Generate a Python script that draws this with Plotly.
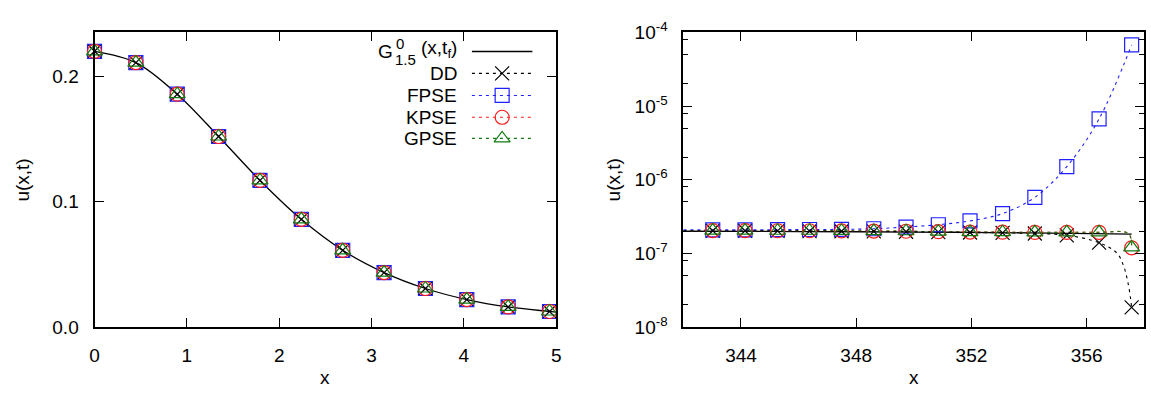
import plotly.graph_objects as go

# ---------------- data ----------------
# left panel
left_x = [0.0, 0.448, 0.896, 1.344, 1.792, 2.240, 2.688, 3.136, 3.584, 4.032, 4.480, 4.928]
g_left_x = [0.0, 0.448, 0.896, 1.344, 1.792, 2.240, 2.688, 3.136, 3.584, 4.032, 4.480, 4.928, 5.0]
g_left = [0.2197, 0.2107, 0.1855, 0.1518, 0.1168, 0.0858, 0.0611, 0.0434, 0.0307, 0.0219, 0.0160, 0.0124, 0.0118]
dd_left = [0.2197, 0.2107, 0.1855, 0.1518, 0.1168, 0.0858, 0.0611, 0.0434, 0.0307, 0.0219, 0.0160, 0.0124]
fpse_left = [0.2197, 0.2107, 0.1855, 0.1518, 0.1168, 0.0858, 0.0611, 0.0434, 0.0307, 0.0219, 0.0160, 0.0124]
kpse_left = [0.2197, 0.2107, 0.1855, 0.1518, 0.1168, 0.0858, 0.0611, 0.0434, 0.0307, 0.0219, 0.0160, 0.0124]
gpse_left = [0.2197, 0.2107, 0.1855, 0.1518, 0.1168, 0.0858, 0.0611, 0.0434, 0.0307, 0.0219, 0.0160, 0.0124]

# right panel (markers)
right_x = [343.02, 344.14, 345.27, 346.38, 347.49, 348.61, 349.73, 350.85, 351.95, 353.08, 354.20, 355.31, 356.43, 357.56]
dd_right = [2.03e-7, 2.03e-7, 2.02e-7, 2.01e-7, 2.00e-7, 1.99e-7, 1.97e-7, 1.94e-7, 1.92e-7, 1.90e-7, 1.86e-7, 1.76e-7, 1.40e-7, 1.85e-8]
fpse_right = [2.09e-7, 2.09e-7, 2.10e-7, 2.11e-7, 2.12e-7, 2.16e-7, 2.28e-7, 2.45e-7, 2.76e-7, 3.47e-7, 5.77e-7, 1.51e-6, 6.70e-6, 6.76e-5]
kpse_right = [2.04e-7, 2.04e-7, 2.03e-7, 2.03e-7, 2.02e-7, 2.01e-7, 2.00e-7, 1.97e-7, 1.95e-7, 1.94e-7, 1.93e-7, 1.93e-7, 1.93e-7, 1.19e-7]
gpse_right = [2.04e-7, 2.04e-7, 2.03e-7, 2.03e-7, 2.02e-7, 2.01e-7, 2.00e-7, 1.97e-7, 1.95e-7, 1.94e-7, 1.93e-7, 1.93e-7, 1.93e-7, 1.21e-7]

# right panel (curves: extra points)
g_right_x = [342.0, 346.0, 350.0, 354.0, 357.56]
g_right = [2.00e-7, 1.98e-7, 1.95e-7, 1.90e-7, 1.83e-7]
curve_start_x = 342.0
dd_start, fpse_start, kpse_start, gpse_start = 2.03e-7, 2.09e-7, 2.04e-7, 2.04e-7
dd_tail_x = [357.06, 357.29, 357.43, 357.52]
dd_tail = [1.00e-7, 6.6e-8, 4.05e-8, 2.48e-8]
pse_tail_x = [357.45]
kpse_tail = [1.86e-7]
gpse_tail = [1.86e-7]

# ticks
left_xticks = [0, 1, 2, 3, 4, 5]
left_yticks = [0.0, 0.1, 0.2]
left_yticktext = ["0.0", "0.1", "0.2"]
right_xticks = [344, 348, 352, 356]
right_yticks = [1e-8, 1e-7, 1e-6, 1e-5, 1e-4]
right_yticktext = ["10<sup>-8</sup>", "10<sup>-7</sup>", "10<sup>-6</sup>", "10<sup>-5</sup>", "10<sup>-4</sup>"]
right_yminor = [m * 10.0 ** e for e in (-8, -7, -6, -5) for m in (2, 5, 8)]

labels = ["DD", "FPSE", "KPSE", "GPSE"]

# ---------------- styling ----------------
W, H = 1151, 396
FONT = "Liberation Sans, Arial, sans-serif"
FS = 19
FS_SMALL = 15
C_DD, C_FP, C_KP, C_GP = "#000000", "#1f1fff", "#ff1a1a", "#127a12"
DASH = "3px,4px"
MS = 14

def px_x(p):
    return p / W

def px_y(p):
    return 1 - p / H

L_dom = [px_x(90.3), px_x(556.0)]
R_dom = [px_x(684.3), px_x(1149.3)]
Y_dom = [px_y(334.3), px_y(20.7)]

fig = go.Figure()

# ---------- left panel ----------
fig.add_trace(go.Scatter(x=g_left_x, y=g_left, mode="lines", line=dict(color="black", width=1.3, shape="spline"),
                         xaxis="x", yaxis="y", showlegend=False))
sets_left = [
    (dd_left, C_DD, "x-thin-open"),
    (fpse_left, C_FP, "square-open"),
    (kpse_left, C_KP, "circle-open"),
    (gpse_left, C_GP, "triangle-up-open"),
]
for ys, c, sym in sets_left:
    fig.add_trace(go.Scatter(x=left_x, y=ys, mode="markers", cliponaxis=False,
                             marker=dict(symbol=sym, size=MS, color=c, line=dict(color=c, width=1.2)),
                             xaxis="x", yaxis="y", showlegend=False))

# ---------- right panel ----------
def merge(x0, y0, xs, ys, tx=(), ty=()):
    pts = [(x0, y0)] + list(zip(xs, ys)) + list(zip(tx, ty))
    pts.sort()
    return [p[0] for p in pts], [p[1] for p in pts]

curves = [
    (merge(curve_start_x, kpse_start, right_x, kpse_right, pse_tail_x, kpse_tail), C_KP),
    (merge(curve_start_x, gpse_start, right_x, gpse_right, pse_tail_x, gpse_tail), C_GP),
    (merge(curve_start_x, dd_start, right_x, dd_right, dd_tail_x, dd_tail), C_DD),
    (merge(curve_start_x, fpse_start, right_x, fpse_right), C_FP),
]
fig.add_trace(go.Scatter(x=g_right_x, y=g_right, mode="lines", line=dict(color="black", width=1.3, shape="spline"),
                         xaxis="x2", yaxis="y2", showlegend=False))
for (cx, cy), c in curves:
    fig.add_trace(go.Scatter(x=cx, y=cy, mode="lines", line=dict(color=c, width=1.1, dash=DASH, shape="spline"),
                             xaxis="x2", yaxis="y2", showlegend=False))
sets_right = [
    (dd_right, C_DD, "x-thin-open"),
    (fpse_right, C_FP, "square-open"),
    (kpse_right, C_KP, "circle-open"),
    (gpse_right, C_GP, "triangle-up-open"),
]
for ys, c, sym in sets_right:
    fig.add_trace(go.Scatter(x=right_x, y=ys, mode="markers", cliponaxis=False,
                             marker=dict(symbol=sym, size=MS, color=c, line=dict(color=c, width=1.2)),
                             xaxis="x2", yaxis="y2", showlegend=False))

# ---------- custom legend (gnuplot style: text left, sample right) ----------
leg_rows = [41.0, 64.3, 87.8, 111.0, 133.5]
leg_line = [471.0, 532.0]
leg_mark = [501.5]
fig.add_trace(go.Scatter(x=leg_line, y=[leg_rows[0]] * 2, mode="lines", line=dict(color="black", width=1.3),
                         xaxis="x3", yaxis="y3", showlegend=False))
for row, (ys, c, sym) in zip(leg_rows[1:], sets_right):
    fig.add_trace(go.Scatter(x=leg_line, y=[row] * 2, mode="lines", line=dict(color=c, width=1.1, dash=DASH),
                             xaxis="x3", yaxis="y3", showlegend=False))
    fig.add_trace(go.Scatter(x=leg_mark, y=[row], mode="markers",
                             marker=dict(symbol=sym, size=MS, color=c, line=dict(color=c, width=1.2)),
                             xaxis="x3", yaxis="y3", showlegend=False))

annotations = []
text_right = 458.0
for row, lab in zip(leg_rows[1:], labels):
    annotations.append(dict(x=px_x(text_right), y=px_y(row), xref="paper", yref="paper", text=lab,
                            xanchor="right", yanchor="middle", showarrow=False, font=dict(size=FS)))
# G^0_{1.5}(x,t_f) with stacked super/subscript
r0 = leg_rows[0]
annotations += [
    dict(x=px_x(text_right), y=px_y(r0), xref="paper", yref="paper", text="(x,t<sub>f</sub>)",
         xanchor="right", yanchor="middle", showarrow=False, font=dict(size=FS), yshift=3),
    dict(x=px_x(417), y=px_y(r0 + 8), xref="paper", yref="paper", text="1.5",
         xanchor="right", yanchor="middle", showarrow=False, font=dict(size=FS_SMALL)),
    dict(x=px_x(393), y=px_y(r0), xref="paper", yref="paper", text="G",
         xanchor="right", yanchor="middle", showarrow=False, font=dict(size=FS)),
    dict(x=px_x(392), y=px_y(r0 - 9), xref="paper", yref="paper", text="0",
         xanchor="left", yanchor="middle", showarrow=False, font=dict(size=FS_SMALL)),
]
# axis titles
for xc in (18.0, 614.0):
    annotations.append(dict(x=px_x(xc), y=px_y(177.5), xref="paper", yref="paper", text="u(x,t)", textangle=-90,
                            xanchor="center", yanchor="middle", showarrow=False, font=dict(size=FS)))
for xc in (323.0, 917.0):
    annotations.append(dict(x=px_x(xc), y=px_y(388.0), xref="paper", yref="paper", text="x",
                            xanchor="center", yanchor="middle", showarrow=False, font=dict(size=FS)))

axis_common = dict(showline=True, linecolor="black", linewidth=2, mirror="ticks", ticks="inside",
                   ticklen=9, tickwidth=1.2, tickcolor="black", showgrid=False, zeroline=False,
                   tickfont=dict(size=FS, color="black"))

fig.update_layout(
    width=W, height=H, margin=dict(l=0, r=0, t=0, b=0),
    paper_bgcolor="white", plot_bgcolor="white",
    font=dict(family=FONT, size=FS, color="black"),
    annotations=annotations,
    xaxis=dict(domain=L_dom, range=[0, 5], tickvals=left_xticks, anchor="y", ticklabelstandoff=10, **axis_common),
    yaxis=dict(domain=Y_dom, range=[0, 0.2347], tickvals=left_yticks, ticktext=left_yticktext, anchor="x",
               ticklabelstandoff=10, **axis_common),
    xaxis2=dict(domain=R_dom, range=[342, 358], tickvals=right_xticks, anchor="y2", ticklabelstandoff=10,
                **axis_common),
    yaxis2=dict(domain=Y_dom, type="log", range=[-8, -4], tickvals=right_yticks, ticktext=right_yticktext,
                anchor="x2", ticklabelstandoff=10,
                minor=dict(tickmode="array", tickvals=right_yminor, ticks="inside", ticklen=5, tickcolor="black",
                           tickwidth=1.2),
                **axis_common),
    xaxis3=dict(domain=[px_x(465), px_x(540)], range=[465, 540], visible=False, anchor="y3"),
    yaxis3=dict(domain=[px_y(150), px_y(25)], range=[150, 25], visible=False, anchor="x3"),
)

fig.write_html("out.html", config={"displayModeBar": False},
               post_script="document.body.style.margin='0';")
